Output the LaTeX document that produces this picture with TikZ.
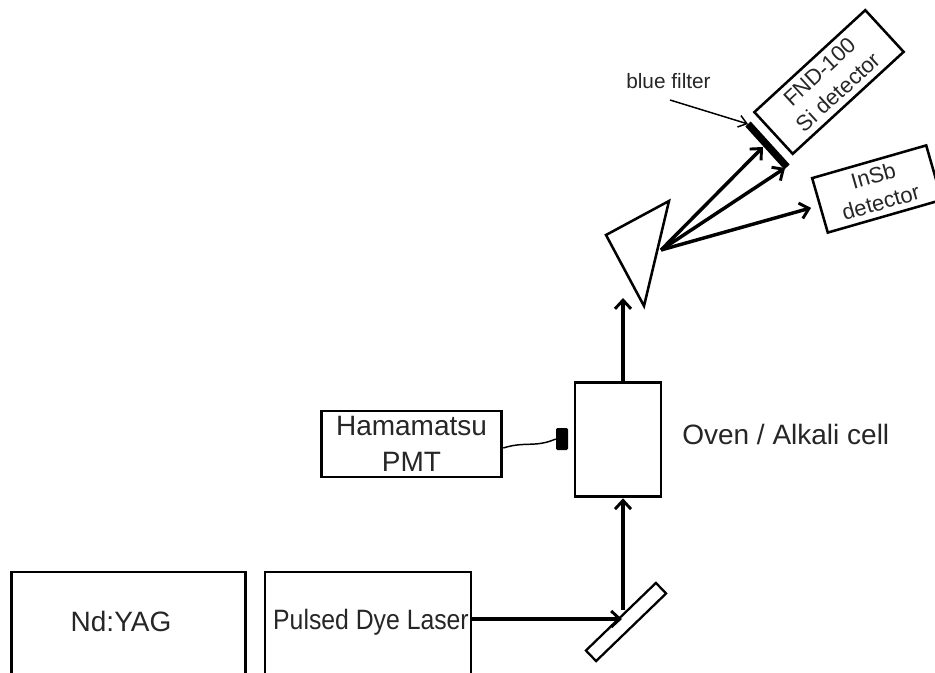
\documentclass[tikz,border=0pt]{standalone}
\usepackage{fontspec}
\setmainfont{Liberation Sans}
\usepackage{tikz}
\usetikzlibrary{arrows.meta, positioning, calc}

\begin{document}
\begin{tikzpicture}[
    x=0.75pt, y=-0.75pt,
    box/.style   = {rectangle, draw=black, line width=2.2pt, inner sep=0pt,
                    align=center, font=\fontsize{21}{26.5}\selectfont, text=black!85},
    det/.style   = {rectangle, draw=black, line width=1.9pt, inner sep=0pt,
                    align=center, font=\fontsize{16.5}{20.5}\selectfont, text=black!85},
    lbl/.style   = {inner sep=0pt, font=\fontsize{21}{25.5}\selectfont, text=black!85},
    arr/.style   = {-{Straight Barb[length=6.5pt,width=12pt,line width=2.2pt]}, line width=2.6pt, color=black},
    thin/.style  = {-{Straight Barb[length=6pt,width=9pt]}, line width=1.1pt, color=black},
  ]
    \clip (0,0) rectangle (935,673);

    % ── Lasers ───────────────────────────────────────────────
    \node[box, minimum width=176pt, minimum height=105pt] (yag) at (128.5,642) {};
    \node[box, minimum width=154.5pt, minimum height=105pt] (dye) at (368,642) {};
    \node[lbl] (yagtxt) at (121,621) {Nd:YAG};
    \node[lbl] (dyetxt) at (371,622) {\scalebox{0.885}[1]{Pulsed Dye Laser}};
    \node[rectangle, draw=black, line width=1.7pt, fill=white, rotate=44,
          minimum width=73pt, minimum height=11pt, inner sep=0pt] (mirror) at (626,622) {};
    \coordinate (dyeout) at (472,619);
    \coordinate (hit)    at (622,619);
    \coordinate (up)     at (623,610);
    \draw[arr] (dyeout) -- (hit);

    % ── Oven and PMT ─────────────────────────────────────────
    \node[box, minimum width=64.5pt, minimum height=86pt] (oven) at (618,439.5) {};
    \node[lbl, anchor=west] (ovenlbl) at (682,434) {Oven / Alkali cell};
    \node[box, minimum width=135.5pt, minimum height=49.5pt] (pmt) at (411.5,444) {Hamamatsu\\PMT};
    \node[rectangle, rounded corners=1pt, fill=black, minimum width=9pt, minimum height=16.5pt,
          inner sep=0pt] (head) at (562,439) {};
    \draw[line width=1.1pt] (pmt.east) ++(0,-3pt) .. controls (525,441) and (535,448) .. (head.west);
    \draw[arr] (up) -- (oven.south -| up);

    % ── Prism ────────────────────────────────────────────────
    \coordinate (pa) at (606,235);
    \coordinate (pb) at (669,201);
    \coordinate (pc) at (644,306);
    \coordinate (exit) at (661,250);
    \draw[line width=1.9pt, line join=miter] (pa) -- (pb) -- (pc) -- cycle;
    \draw[arr] (oven.north -| up) -- (623,298);

    % ── Detectors ────────────────────────────────────────────
    \node[det, rotate=42.6, minimum width=113pt, minimum height=42.5pt] (fnd) at (829,82)
        {FND-100\\Si detector};
    \node[det, rotate=16, minimum width=89pt, minimum height=42.5pt] (insb) at (877,189)
        {InSb\\detector};
    \coordinate (filta) at (748,124);
    \coordinate (filtb) at (787,167);
    \coordinate (ends)  at (763,147);
    \coordinate (endb)  at (785,168);
    \draw[line width=5.5pt] (filta) -- (filtb);
    \draw[arr] (exit) -- (ends);
    \draw[arr] (exit) -- (endb);
    \draw[arr, shorten >=6pt] (exit) -- (insb.west);

    % ── Filter label ─────────────────────────────────────────
    \node[lbl, font=\fontsize{15.6}{18}\selectfont] (blue) at (668.5,81) {blue filter};
    \coordinate (bluefrom) at (670,100);
    \draw[thin] (bluefrom) -- (filta);

  \end{tikzpicture}
\end{document}
